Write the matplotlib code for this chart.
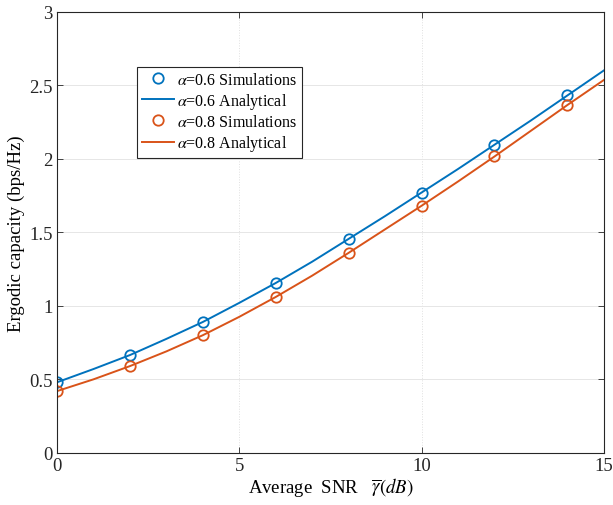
import matplotlib
matplotlib.use("Agg")
import matplotlib.pyplot as plt
import numpy as np

plt.rcParams['font.family'] = ['Liberation Serif', 'DejaVu Serif']
plt.rcParams['mathtext.fontset'] = 'stix'

snr_sim = [0, 2, 4, 6, 8, 10, 12, 14]
sim_06 = [0.483, 0.667, 0.891, 1.156, 1.456, 1.769, 2.095, 2.435]
sim_08 = [0.422, 0.592, 0.803, 1.061, 1.361, 1.680, 2.020, 2.367]

snr_ana = [0, 1, 2, 3, 4, 5, 6, 7, 8, 9, 10, 11, 12, 13, 14, 15]
ana_06 = [0.48, 0.57, 0.665, 0.775, 0.89, 1.02, 1.155, 1.30, 1.455, 1.61, 1.77, 1.93, 2.095, 2.26, 2.43, 2.60]
ana_08 = [0.42, 0.50, 0.59, 0.69, 0.80, 0.925, 1.06, 1.205, 1.36, 1.52, 1.68, 1.845, 2.015, 2.19, 2.365, 2.535]

xticks = [0, 5, 10, 15]
yticks = [0, 0.5, 1, 1.5, 2, 2.5, 3]
ytick_labels = ['0', '0.5', '1', '1.5', '2', '2.5', '3']

blue = '#0072BD'
orange = '#D95319'

fig = plt.figure(figsize=(6.13, 5.06), dpi=100)
ax = fig.add_axes([0.093, 0.103, 0.892, 0.872])

ax.plot(snr_sim, sim_06, 'o', mfc='none', mec=blue, mew=1.3, ms=7.5, label=r'$\alpha$=0.6 Simulations')
ax.plot(snr_ana, ana_06, '-', color=blue, lw=1.4, label=r'$\alpha$=0.6 Analytical')
ax.plot(snr_sim, sim_08, 'o', mfc='none', mec=orange, mew=1.3, ms=7.5, label=r'$\alpha$=0.8 Simulations')
ax.plot(snr_ana, ana_08, '-', color=orange, lw=1.4, label=r'$\alpha$=0.8 Analytical')

ax.set_xlim(0, 15)
ax.set_ylim(0, 3)
ax.set_xticks(xticks)
ax.set_yticks(yticks)
ax.set_yticklabels(ytick_labels)
ax.tick_params(direction='in', top=True, right=True, labelsize=13.5, length=4, width=0.6,
               colors='#262626', labelcolor='#262626', pad=3)
ax.grid(axis='y', color='#e6e6e6', lw=0.7, ls='-')
ax.grid(axis='x', color='#e0e0e0', lw=0.7, ls=':')
ax.set_axisbelow(True)
for s in ax.spines.values():
    s.set_linewidth(0.8)
    s.set_color('#262626')

ax.set_xlabel(r'Average  SNR   $\overline{\gamma}\left(dB\right)$', fontsize=13.5, labelpad=1)
ax.set_ylabel('Ergodic capacity (bps/Hz)', fontsize=13.5, labelpad=3)

leg = ax.legend(loc='upper left', bbox_to_anchor=(0.132, 0.893), fontsize=11.5, frameon=True,
                fancybox=False, edgecolor='#262626', framealpha=1, handlelength=2.0,
                handletextpad=0.2, borderpad=0.3, labelspacing=0.2)
leg.get_frame().set_linewidth(0.8)

fig.savefig('out.png', dpi=100)
